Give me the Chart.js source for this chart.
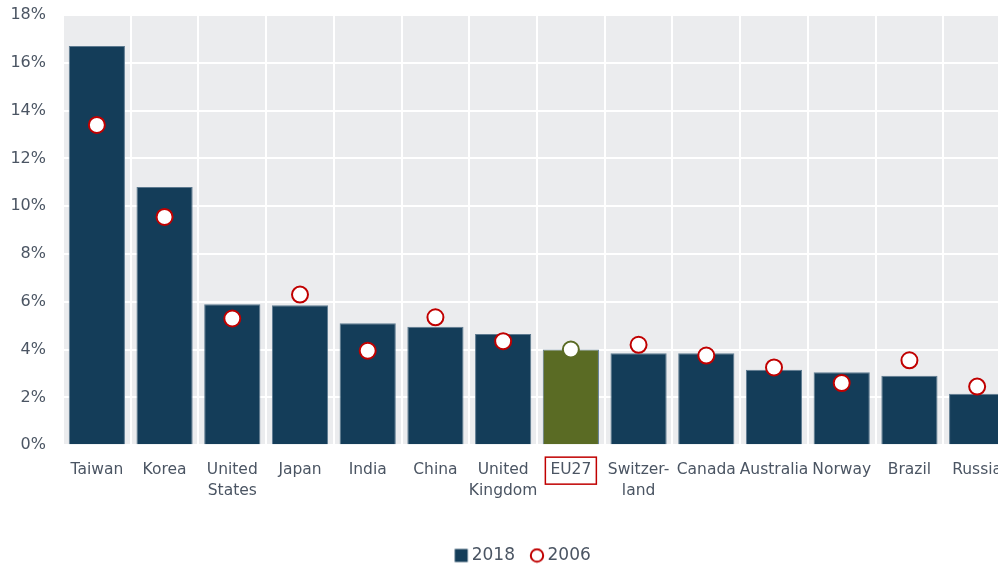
<!DOCTYPE html>
<html>
<head>
<meta charset="utf-8">
<script src="https://cdn.jsdelivr.net/npm/chart.js@4/dist/chart.umd.min.js"></script>
<style>
  html, body { margin: 0; padding: 0; background: #fff; overflow: hidden; }
  #wrap { width: 1050px; height: 569px; }
</style>
</head>
<body>
<div id="wrap"><canvas id="chart"></canvas></div>
<script>
const countries = [
  "Taiwan", "Korea", ["United", "States"], "Japan", "India", "China",
  ["United", "Kingdom"], "EU27", ["Switzer-", "land"], "Canada",
  "Australia", "Norway", "Brazil", "Russia"
];
const values2018 = [16.7, 10.8, 5.9, 5.85, 5.1, 4.95, 4.65, 4.0, 3.85, 3.85, 3.15, 3.05, 2.9, 2.15];
const values2006 = [13.4, 9.55, 5.3, 6.3, 3.95, 5.35, 4.35, 4.0, 4.2, 3.75, 3.25, 2.6, 3.55, 2.45];
const yTicks = [0, 2, 4, 6, 8, 10, 12, 14, 16, 18];

const NAVY = "#143d59";
const OLIVE = "#5a6b24";
const RED = "#c00000";
const TEXT = "#4b5563";
const FONT = "'DejaVu Sans', Verdana, sans-serif";
const highlight = 7;

const barColors = values2018.map((_, i) => (i === highlight ? OLIVE : NAVY));
const markerBorders = values2006.map((_, i) => (i === highlight ? OLIVE : RED));

function legendIcon(draw) {
  const c = document.createElement("canvas");
  c.width = 16;
  c.height = 16;
  draw(c.getContext("2d"));
  return c;
}
const squareIcon = legendIcon((g) => {
  g.fillStyle = NAVY;
  g.fillRect(1.5, 1.5, 13, 13);
});
const circleIcon = legendIcon((g) => {
  g.fillStyle = "#fff";
  g.strokeStyle = RED;
  g.lineWidth = 2;
  g.beginPath();
  g.arc(8, 8, 6.2, 0, Math.PI * 2);
  g.fill();
  g.stroke();
});

const plotBackground = {
  id: "plotBackground",
  beforeDraw(chart) {
    const { ctx, chartArea } = chart;
    ctx.save();
    ctx.fillStyle = "#ebecee";
    ctx.fillRect(chartArea.left, chartArea.top, chartArea.right - chartArea.left, chartArea.bottom - chartArea.top);
    ctx.restore();
  },
};

// the original legend sits centred on the full (wider) figure, not on 0..chartArea.right
const legendShift = {
  id: "legendShift",
  afterLayout(chart) {
    chart.legend.left += 19.5;
    chart.legend.right += 19.5;
  },
};

const labelBox = {
  id: "labelBox",
  afterDraw(chart) {
    const { ctx } = chart;
    const xs = chart.scales.x;
    const x = xs.getPixelForTick(highlight);
    ctx.save();
    ctx.strokeStyle = RED;
    ctx.lineWidth = 1.5;
    ctx.strokeRect(x - 25.5, xs.top + 12, 51, 27);
    ctx.restore();
  },
};

new Chart(document.getElementById("chart").getContext("2d"), {
  data: {
    labels: countries,
    datasets: [
      {
        type: "bar",
        label: "2018",
        data: values2018,
        backgroundColor: barColors,
        borderColor: "#5d7a90",
        borderWidth: 1,
        barPercentage: 0.83,
        categoryPercentage: 1,
        order: 1,
      },
      {
        type: "line",
        label: "2006",
        data: values2006,
        showLine: false,
        pointStyle: "circle",
        pointRadius: 8,
        pointHoverRadius: 8,
        pointBorderWidth: 2,
        pointBackgroundColor: "#ffffff",
        pointBorderColor: markerBorders,
        backgroundColor: "#ffffff",
        borderColor: RED,
        order: 0,
      },
    ],
  },
  options: {
    responsive: true,
    maintainAspectRatio: false,
    animation: false,
    layout: { padding: { top: 15, right: 39, left: 0, bottom: -5 } },
    scales: {
      x: {
        grid: { color: "#ffffff", lineWidth: 2, offset: true, drawTicks: false },
        border: { display: false },
        ticks: {
          color: TEXT,
          font: { family: FONT, size: 15.5, lineHeight: 1.35 },
          padding: 14,
          maxRotation: 0,
          autoSkip: false,
        },
        afterFit(scale) {
          scale.height += 12;
        },
      },
      y: {
        min: 0,
        max: 18,
        afterBuildTicks(scale) {
          scale.ticks = yTicks.map((v) => ({ value: v }));
        },
        afterFit(scale) {
          scale.width = 63;
          scale.paddingTop = 0;
        },
        grid: { color: "#ffffff", lineWidth: 2, drawTicks: false },
        border: { display: false },
        ticks: {
          color: TEXT,
          font: { family: FONT, size: 16 },
          padding: 17,
          callback: (v) => v + "%",
        },
      },
    },
    plugins: {
      tooltip: { enabled: false },
      legend: {
        position: "bottom",
        labels: {
          usePointStyle: true,
          color: TEXT,
          font: { family: FONT, size: 17 },
          boxHeight: 16,
          boxWidth: 4,
          padding: 20,
          generateLabels(chart) {
            const items = Chart.defaults.plugins.legend.labels.generateLabels(chart);
            items.sort((a, b) => a.datasetIndex - b.datasetIndex);
            items.forEach((it) => {
              it.pointStyle = it.datasetIndex === 0 ? squareIcon : circleIcon;
            });
            return items;
          },
        },
      },
    },
  },
  plugins: [plotBackground, legendShift, labelBox],
});
</script>
</body>
</html>
